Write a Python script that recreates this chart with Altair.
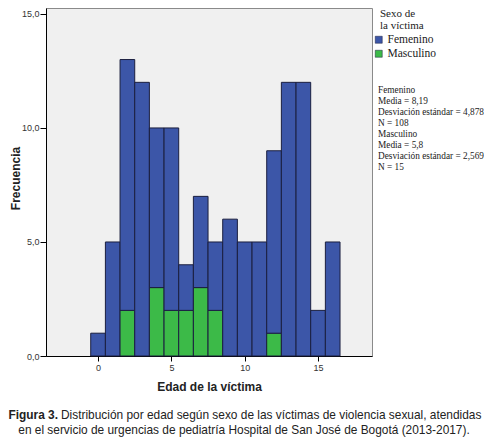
import altair as alt
import pandas as pd

# ---- data ----
edades = list(range(17))
femenino = [1, 5, 11, 12, 7, 8, 2, 4, 3, 6, 5, 5, 8, 12, 12, 2, 5]
masculino = [0, 0, 2, 0, 3, 2, 2, 3, 2, 0, 0, 0, 1, 0, 0, 0, 0]
sexos = ["Femenino", "Masculino"]
colores = ["#3c56a8", "#3cba48"]
y_ticks = [0, 5, 10, 15]
x_ticks = [0, 5, 10, 15]
legend_title = ["Sexo de", "la víctima"]
stats_lines = [
    "Femenino",
    "Media = 8,19",
    "Desviación estándar = 4,878",
    "N = 108",
    "Masculino",
    "Media = 5,8",
    "Desviación estándar = 2,569",
    "N = 15",
]
caption_bold = "Figura 3."
caption_line1 = "Distribución por edad según sexo de las víctimas de violencia sexual, atendidas"
caption_line2 = "en el servicio de urgencias de pediatría Hospital de San José de Bogotá (2013-2017)."

# ---- build the stacked table ----
rows = []
for e, f, m in zip(edades, femenino, masculino):
    if m:
        rows.append(dict(edad=e, sexo="Masculino", base=0, top=m, lo=e - 0.5, hi=e + 0.5))
    if f:
        rows.append(dict(edad=e, sexo="Femenino", base=m, top=m + f, lo=e - 0.5, hi=e + 0.5))
df = pd.DataFrame(rows)

W, H = 326, 348

bars = alt.Chart(df).mark_bar(stroke="#1b1f3f", strokeWidth=1).encode(
    x=alt.X("lo:Q",
            scale=alt.Scale(domain=[-3.55, 18.68], nice=False, zero=False),
            axis=alt.Axis(values=x_ticks, format="d", title="Edad de la víctima",
                          grid=False, tickSize=5, labelPadding=2,
                          domainColor="#000", tickColor="#000",
                          labelFont="Liberation Sans", labelFontSize=9, labelColor="#333",
                          titleFont="Liberation Sans", titleFontSize=12, titleFontWeight="bold",
                          titleColor="#222", titleY=30, titleBaseline="middle")),
    x2="hi:Q",
    y=alt.Y("top:Q",
            scale=alt.Scale(domain=[0, 15.26], nice=False),
            axis=alt.Axis(values=y_ticks,
                          labelExpr="replace(format(datum.value, '.1f'), '.', ',')",
                          title="Frecuencia", grid=False, tickSize=6, labelPadding=1,
                          domainColor="#000", tickColor="#000",
                          labelFont="Liberation Sans", labelFontSize=9, labelColor="#333",
                          titleFont="Liberation Sans", titleFontSize=12, titleFontWeight="bold",
                          titleColor="#222", titleX=-31, titleY=170, titleAngle=270,
                          titleBaseline="middle", titleAlign="center")),
    y2="base:Q",
    color=alt.Color("sexo:N",
                    scale=alt.Scale(domain=sexos, range=colores),
                    legend=alt.Legend(title=None, orient="none", legendX=327, legendY=26,
                                      symbolType="square", symbolSize=49,
                                      symbolStrokeColor="#1b1f3f", symbolStrokeWidth=0.5,
                                      labelFont="Liberation Serif", labelFontSize=11.5,
                                      labelColor="#222", labelOffset=3, rowPadding=1)),
)

title_df = pd.DataFrame({"t": ["\n".join(legend_title)]})
legend_title_text = alt.Chart(title_df).mark_text(
    align="left", baseline="top", font="Liberation Serif", fontSize=11,
    color="#222", lineBreak="\n", lineHeight=12
).encode(text="t:N", x=alt.value(334), y=alt.value(0))

stats_df = pd.DataFrame({"t": ["\n".join(stats_lines)]})
stats_text = alt.Chart(stats_df).mark_text(
    align="left", baseline="middle", font="Liberation Serif", fontSize=9.3,
    color="#222", lineBreak="\n", lineHeight=11
).encode(text="t:N", x=alt.value(332), y=alt.value(82))

cap_b = alt.Chart(pd.DataFrame({"t": [caption_bold]})).mark_text(
    align="right", baseline="middle", font="Liberation Sans", fontSize=11.9,
    fontWeight="bold", color="#222"
).encode(text="t:N", x=alt.value(12), y=alt.value(407))

cap_1 = alt.Chart(pd.DataFrame({"t": [caption_line1]})).mark_text(
    align="left", baseline="middle", font="Liberation Sans", fontSize=11.9, color="#222"
).encode(text="t:N", x=alt.value(15), y=alt.value(407))

cap_2 = alt.Chart(pd.DataFrame({"t": [caption_line2]})).mark_text(
    align="center", baseline="middle", font="Liberation Sans", fontSize=11.9, color="#222"
).encode(text="t:N", x=alt.value(198), y=alt.value(422))

chart = alt.layer(bars, legend_title_text, stats_text, cap_b, cap_1, cap_2).properties(
    width=W, height=H,
    autosize=alt.AutoSizeParams(type="none"),
    padding={"left": 38, "top": 0, "right": 112, "bottom": 82},
    background="white",
).configure_view(
    fill="#f0f0f0", stroke="#8a8a8a", strokeWidth=1
)

chart.save("out.html", embed_options={"renderer": "svg", "actions": False})
